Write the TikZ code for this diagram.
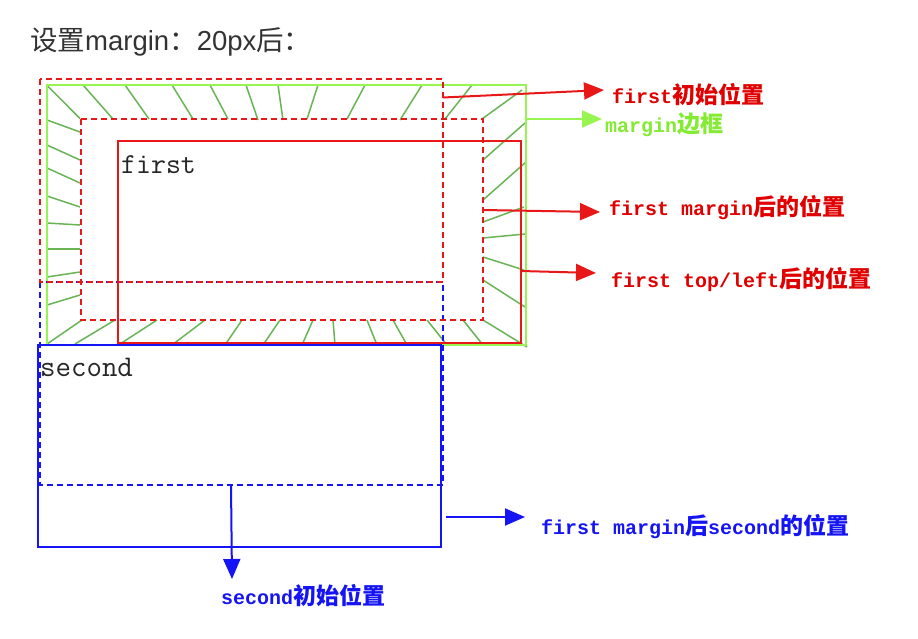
\documentclass[tikz,border=0pt]{standalone}
\usepackage{fontspec}
\setmainfont{Liberation Sans}
\newfontfamily\cjk{Noto Sans CJK SC}
\newfontfamily\lblmono{Liberation Mono}
\usetikzlibrary{arrows.meta}
\definecolor{myred}{RGB}{232,24,24}
\definecolor{lblred}{RGB}{225,0,0}
\definecolor{myblue}{RGB}{20,20,245}
\definecolor{mygreen}{RGB}{150,245,80}
\definecolor{lblgreen}{RGB}{130,235,50}
\definecolor{hatchgreen}{RGB}{105,180,85}
\definecolor{titlegray}{RGB}{51,51,51}
\newcommand\zh[1]{{\cjk\fontsize{23}{25}\selectfont #1}}
\begin{document}
\begin{tikzpicture}[x=1pt,y=-1pt,
  frame/.style={line width=2pt},
  dashframe/.style={line width=2pt, dash pattern=on 6pt off 4pt},
  hatchline/.style={hatchgreen, line width=1.5pt},
  callout/.style={line width=2pt, -{Triangle[length=20pt,width=17pt]}},
  lbl/.style={anchor=west, inner sep=0pt, font=\fontsize{20}{22}\lblmono\bfseries},
  boxtext/.style={anchor=base west, inner sep=0pt, text=black!85}]
\useasboundingbox (0,0) rectangle (918,638);
\fill[white] (0,0) rectangle (918,638);

% title
\node[anchor=base west, inner sep=0pt, text=titlegray, font=\fontsize{27.5}{30}\selectfont] (title) at (30,50) {{\cjk 设置}margin{\cjk ：}20px{\cjk 后：}};

% rectangle corners
\coordinate (oA) at (40,79);   \coordinate (oB) at (443,282);
\coordinate (gA) at (47,85);   \coordinate (gB) at (526,345);
\coordinate (mA) at (81,119);  \coordinate (mB) at (483,320);
\coordinate (pA) at (118,141); \coordinate (pB) at (521,343);
\coordinate (sdA) at (40,282); \coordinate (sdB) at (443,485);
\coordinate (sA) at (38,345);  \coordinate (sB) at (441,547);

% hatch lines of the margin area
\foreach \xa/\ya/\xb/\yb in {
  46.7/85/80/118.5, 83/85/113/119, 125/85/149/119, 172/85/193/119, 210/85/228/119,
  246/85/258/120, 278/85/283/120, 318/85/307/119, 365/85/347/119, 422/85/400/120,
  472/85/445/119, 522/90/482/119,
  525/123/483/160, 526/162/483/200, 524/207/483/222, 525/234/483/238,
  483/257/524/270, 483/280/525/307, 483/320/527/347, 463/320/483/345,
  82/320/47/344, 115/320/75/344, 157/320/120/344, 205/320/172/345, 242/320/225/345,
  280/320/263/345, 313/320/302/345, 333/320/335/345, 367/320/377/345, 393/320/407/345,
  427/320/447/345,
  47/120/80/132, 47/145/80/160, 47/168/80/183, 47/196/80/207, 47/223/80/225,
  47/249/80/249, 47/277/80/272, 47/305/80/295}
  \draw[hatchline] (\xa,\ya) -- (\xb,\yb);

% frames
\draw[frame, mygreen] (gA) rectangle (gB);
\draw[dashframe, myblue] (sdA) rectangle (sdB);
\draw[frame, myblue] (sA) rectangle (sB);
\draw[dashframe, myred] (oA) rectangle (oB);
\draw[dashframe, myred] (mA) rectangle (mB);
\draw[frame, myred] (pA) rectangle (pB);

% texts in the boxes
\node[boxtext, font=\fontsize{29}{31}\ttfamily] (first) at (121,173) {first};
\node[boxtext, font=\fontsize{30}{32}\ttfamily] (second) at (40,376) {second};

% callout coordinates
\coordinate (c1s) at (443,97.5); \coordinate (c1t) at (604,90);
\coordinate (c2s) at (527,119);  \coordinate (c2t) at (602,119);
\coordinate (c3s) at (483,210);  \coordinate (c3t) at (600,212);
\coordinate (c4s) at (521,271);  \coordinate (c4t) at (596,273);
\coordinate (c5s) at (446,517);  \coordinate (c5t) at (525,517);
\coordinate (c6s) at (231,485);  \coordinate (c6t) at (232,579);

\draw[callout, myred] (c1s) -- (c1t);
\draw[callout, mygreen] (c2s) -- (c2t);
\draw[callout, myred] (c3s) -- (c3t);
\draw[callout, myred] (c4s) -- (c4t);
\draw[callout, myblue] (c5s) -- (c5t);
\draw[callout, myblue] (c6s) -- (c6t);

% labels
\node[lbl, text=lblred] (l1) at (612,95) {first\zh{初始位置}};
\node[lbl, text=lblgreen] (l2) at (605,125) {margin\zh{边框}};
\node[lbl, text=lblred] (l3) at (609,208) {first margin\zh{后的位置}};
\node[lbl, text=lblred] (l4) at (611,280) {first top/left\zh{后的位置}};
\node[lbl, text=myblue] (l5) at (541,527) {first margin\zh{后}second\zh{的位置}};
\node[lbl, text=myblue] (l6) at (221,596) {second\zh{初始位置}};
\end{tikzpicture}
\end{document}
